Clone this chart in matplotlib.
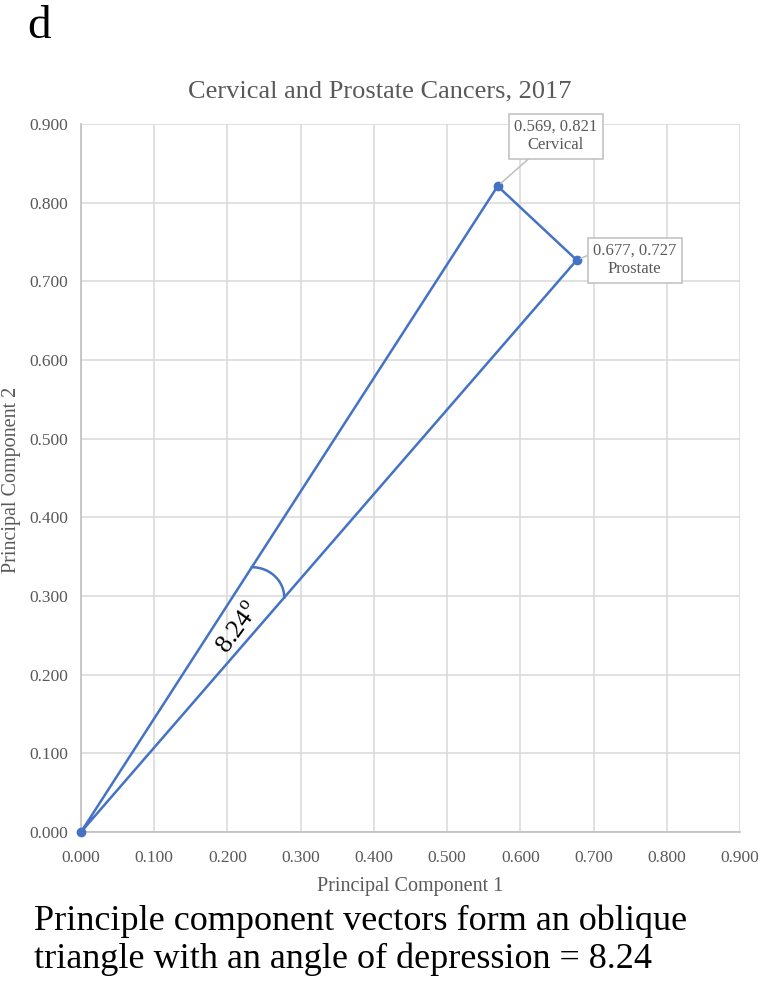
import numpy as np
import matplotlib
matplotlib.use("Agg")
import matplotlib.pyplot as plt

# ---- data ----
labels = ["Cervical", "Prostate"]
pc1 = [0.569, 0.677]
pc2 = [0.821, 0.727]
origin = [0.0, 0.0]
angle_deg = 8.24
ticks = [0.0, 0.1, 0.2, 0.3, 0.4, 0.5, 0.6, 0.7, 0.8, 0.9]

plt.rcParams['font.family'] = ['Liberation Serif', 'DejaVu Serif']
plt.rcParams['mathtext.fontset'] = 'custom'
plt.rcParams['mathtext.rm'] = 'Liberation Serif'

W, H = 762, 983
fig = plt.figure(figsize=(W / 100, H / 100), dpi=100)

def fx(px):
    return px / W

def fy(py):
    return 1 - py / H

left, right, top, bottom = 81, 740, 124, 832
ax = fig.add_axes([fx(left), fy(bottom), (right - left) / W, (bottom - top) / H])

blue = '#4472C4'
grid_c = '#d9d9d9'
axis_c = '#bfbfbf'
txt_c = '#595959'

ax.set_xlim(0, 0.9)
ax.set_ylim(0, 0.9)
ax.set_xticks(ticks)
ax.set_yticks(ticks)
ax.set_xticklabels([f"{t:.3f}" for t in ticks])
ax.set_yticklabels([f"{t:.3f}" for t in ticks])
ax.tick_params(length=0, labelsize=12.5, colors=txt_c)
ax.tick_params(axis='x', pad=13)
ax.tick_params(axis='y', pad=9)
ax.grid(True, color=grid_c, linewidth=1.1)
ax.set_axisbelow(True)
for s in ['top', 'right']:
    ax.spines[s].set_visible(False)
for s in ['left', 'bottom']:
    ax.spines[s].set_color(axis_c)
    ax.spines[s].set_linewidth(1.2)

# triangle lines
xs = [origin[0], pc1[0], pc1[1], origin[0]]
ys = [origin[1], pc2[0], pc2[1], origin[1]]
ax.plot(xs, ys, color=blue, linewidth=1.8, zorder=3, clip_on=False)
ax.plot([origin[0]] + pc1, [origin[1]] + pc2, linestyle='none', marker='o',
        markersize=6, color=blue, zorder=4, clip_on=False)

# angle arc (quarter-ellipse between the two vectors, in display space)
fig.canvas.draw()
to_disp = ax.transData
o_d = to_disp.transform((origin[0], origin[1]))
c_d = to_disp.transform((pc1[0], pc2[0]))
p_d = to_disp.transform((pc1[1], pc2[1]))
s_d = o_d + 0.41 * (c_d - o_d)   # start on cervical vector
e_d = o_d + 0.41 * (p_d - o_d)   # end on prostate vector
cen = np.array([s_d[0], e_d[1]])
tt = np.linspace(np.pi / 2, 0, 50)
arc_d = np.column_stack([cen[0] + (e_d[0] - cen[0]) * np.cos(tt),
                         cen[1] + (s_d[1] - cen[1]) * np.sin(tt)])
arc = to_disp.inverted().transform(arc_d)
ax.plot(arc[:, 0], arc[:, 1], color=blue, linewidth=1.8, zorder=3)

# angle text
a_c = np.arctan2(c_d[1] - o_d[1], c_d[0] - o_d[0])
a_p = np.arctan2(p_d[1] - o_d[1], p_d[0] - o_d[0])
mid_a = (a_c + a_p) / 2
t_d = (239, H - 628)
t_data = to_disp.inverted().transform(t_d)
ax.text(t_data[0], t_data[1], f"{angle_deg:.2f}" + r"$^{\mathrm{o}}$", fontsize=19,
        rotation=np.degrees(mid_a) + 1, rotation_mode='anchor', ha='center', va='center',
        color='black', zorder=5)

# callouts
offsets = [(58, 50), (58, 0)]
relpos = [(0.25, 0.0), (0.0, 0.7)]
for i in range(2):
    ax.annotate(f"{pc1[i]:.3f}, {pc2[i]:.3f}\n{labels[i]}",
                xy=(pc1[i], pc2[i]), xytext=offsets[i], textcoords='offset pixels',
                ha='center', va='center', fontsize=12, color=txt_c, linespacing=1.2,
                bbox=dict(boxstyle='square,pad=0.32', fc='white', ec=axis_c, lw=1.1),
                arrowprops=dict(arrowstyle='-', color=axis_c, lw=1.1, relpos=relpos[i],
                                shrinkA=0, shrinkB=3),
                zorder=6, annotation_clip=False)

# labels
fig.text(fx(410), fy(886), "Principal Component 1", ha='center', va='center',
         fontsize=14.5, color=txt_c)
fig.text(fx(12), fy(480), "Principal Component 2", ha='center', va='center',
         fontsize=14.5, color=txt_c, rotation=90)
fig.text(fx(380), fy(97), "Cervical and Prostate Cancers, 2017", ha='center',
         va='baseline', fontsize=19, color=txt_c)
fig.text(fx(27), fy(38), "d", ha='left', va='baseline', fontsize=34, color='black')
fig.text(fx(34), fy(930), "Principle component vectors form an oblique", ha='left',
         va='baseline', fontsize=26, color='black')
fig.text(fx(34), fy(968), "triangle with an angle of depression = 8.24", ha='left',
         va='baseline', fontsize=26, color='black')

fig.savefig("out.png", dpi=100)
